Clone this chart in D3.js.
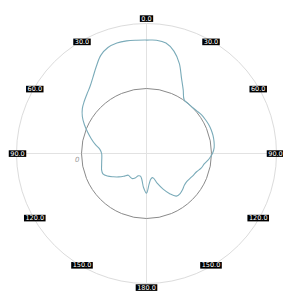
<!DOCTYPE html>
<html lang="en">
<head>
<meta charset="utf-8">
<script src="https://cdn.jsdelivr.net/npm/d3@7"></script>
<style>
  body { margin: 0; background: #fff; }
  text { font-family: "DejaVu Sans", sans-serif; }
</style>
</head>
<body>
<div id="chart"></div>
<script>
// angle in degrees, clockwise from top
var angles = [0, 5, 10, 15, 20, 25, 30, 35, 40, 45, 50, 55, 60, 65, 70, 75, 80, 85,
              90, 95, 100, 105, 110, 115, 120, 125, 130, 135, 140, 145, 150, 155, 160, 165, 170, 175,
              180, 185, 190, 195, 200, 205, 210, 215, 220, 225, 230, 235, 240, 245, 250, 255, 260, 265,
              270, 275, 280, 285, 290, 295, 300, 305, 310, 315, 320, 325, 330, 335, 340, 345, 350, 355];
// gain (dB)
var gain = [14.9, 15.0, 14.5, 12.6, 9.5, 5.5, 2.6, 0.2, 0.0, 0.0, 0.3, 0.7, 0.9, 1.1, 1.2, 1.2, 1.1, 0.9,
            0.3, -0.7, -1.9, -2.6, -3.6, -4.1, -4.6, -4.9, -4.8, -4.3, -3.9, -4.0, -5.7, -7.9, -10.2, -12.3, -12.1, -10.6,
            -7.8, -9.5, -11.8, -12.8, -12.7, -11.7, -11.1, -11.2, -11.3, -10.1, -8.8, -7.5, -6.1, -5.2, -5.3, -5.7, -6.0, -6.2,
            -6.2, -5.6, -4.0, -2.4, -0.7, 1.1, 2.8, 4.1, 5.0, 5.9, 7.0, 8.7, 10.9, 13.3, 14.7, 15.2, 15.2, 15.0];

var tickAngles = [0, 30, 60, 90, 120, 150, 180, 210, 240, 270, 300, 330];
var tickLabels = ["0.0", "30.0", "60.0", "90.0", "120.0", "150.0", "180.0", "150.0", "120.0", "90.0", "60.0", "30.0"];
var radialTicks = [0];

var width = 283, height = 291;
var cx = 146.5, cy = 153.5, R = 130;

var svg = d3.select("#chart").append("svg")
    .attr("width", width)
    .attr("height", height);

var g = svg.append("g")
    .attr("transform", "translate(" + cx + "," + cy + ")");

var r = d3.scaleLinear().domain([-20, 20]).range([0, R]);
var rad = function(a) { return a * Math.PI / 180; };

// outer circle + axes
g.append("circle").attr("r", R)
    .style("fill", "none").style("stroke", "#dcdcdc").style("stroke-width", 1);
g.append("line").attr("x1", -R).attr("x2", R).attr("y1", 0).attr("y2", 0)
    .style("stroke", "#e2e2e2").style("stroke-width", 1);
g.append("line").attr("y1", -R).attr("y2", R).attr("x1", 0).attr("x2", 0)
    .style("stroke", "#e2e2e2").style("stroke-width", 1);

// radial grid
g.selectAll(".rgrid")
    .data(radialTicks)
    .enter().append("circle")
    .attr("class", "rgrid")
    .attr("r", function(d) { return r(d); })
    .style("fill", "none").style("stroke", "#8a8a8a").style("stroke-width", 1);

g.selectAll(".rlabel")
    .data(radialTicks)
    .enter().append("text")
    .attr("class", "rlabel")
    .attr("x", function(d) { return -r(d) - 2; })
    .attr("y", 8)
    .style("text-anchor", "end")
    .style("font-size", "7px")
    .style("font-style", "italic")
    .style("fill", "#999")
    .text(function(d) { return d; });

// data curve
var pts = angles.map(function(a, i) { return [rad(a), r(gain[i])]; });
var line = d3.lineRadial()
    .angle(function(d) { return d[0]; })
    .radius(function(d) { return d[1]; })
    .curve(d3.curveCatmullRomClosed);

g.append("path")
    .datum(pts)
    .attr("d", line)
    .style("fill", "none")
    .style("stroke", "#7aabb9")
    .style("stroke-width", 1.1);

// angular labels
var lab = g.selectAll(".alabel")
    .data(tickAngles)
    .enter().append("g")
    .attr("class", "alabel")
    .attr("transform", function(d) {
        var lr = R - 1;
        var x = lr * Math.sin(rad(d));
        var y = -lr * Math.cos(rad(d));
        if (d === 0) y -= 6;
        if (d === 180) y += 5;
        return "translate(" + x + "," + y + ")";
    });

lab.append("text")
    .attr("dy", "0.35em")
    .style("text-anchor", "middle")
    .style("font-size", "6.5px")
    .style("fill", "#fff")
    .text(function(d, i) { return tickLabels[i]; });

lab.each(function() {
    var t = d3.select(this).select("text");
    var b = t.node().getBBox();
    d3.select(this).insert("rect", "text")
        .attr("x", b.x - 1.5)
        .attr("y", -3.2)
        .attr("width", b.width + 3)
        .attr("height", 6.6)
        .style("fill", "#000");
});
</script>
</body>
</html>
